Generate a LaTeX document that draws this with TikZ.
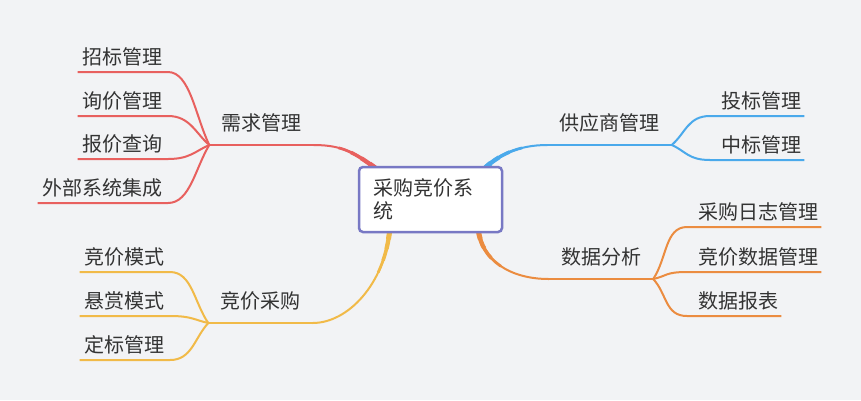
\documentclass[tikz,border=0pt]{standalone}
\usepackage{fontspec}
\newfontfamily\cjk{Noto Sans CJK SC}
\usetikzlibrary{backgrounds}
\definecolor{bgc}{HTML}{F2F3F5}
\definecolor{txt}{HTML}{333333}
\definecolor{cred}{HTML}{E8605E}
\definecolor{cblue}{HTML}{4AA9EB}
\definecolor{corange}{HTML}{EB8C40}
\definecolor{cyellow}{HTML}{F1BA48}
\definecolor{cpurple}{HTML}{7878C4}
\tikzset{
  every node/.style={font=\cjk\fontsize{20}{23}\selectfont, text=txt},
  leaf/.style={inner xsep=5pt, inner ysep=0pt, text depth=7.5pt},
  rleaf/.style={leaf, inner xsep=3pt, xshift=8pt},
  branch/.style={inner xsep=12pt, inner ysep=0pt, text depth=14.5pt},
  twig/.style={line width=2pt, line join=round},
}
\begin{document}
\begin{tikzpicture}[x=1pt,y=-1pt]
	\useasboundingbox (0,0) rectangle (861,400);
	% centre
	\node[draw=cpurple, line width=2.5pt, fill=white, rounded corners=4pt, minimum width=143pt, minimum height=65pt, text width=115pt, inner xsep=13pt, align=left] (root) at (430.5,199.5) {采购竞价系\\统};
	% main topics
	\node[branch, anchor=south] (xq) at (261.5,145) {需求管理};
	\node[branch, anchor=south] (gy) at (609.5,145) {供应商管理};
	\node[branch, anchor=south] (sj) at (601,279) {数据分析};
	\node[branch, anchor=south] (jc) at (260.5,323) {竞价采购};
	% subtopics
	\node[leaf, anchor=south east] (zb) at (168,72) {招标管理};
	\node[leaf, anchor=south east] (xj) at (168,116) {询价管理};
	\node[leaf, anchor=south east] (bj) at (168,159) {报价查询};
	\node[leaf, anchor=south east] (wb) at (168,203) {外部系统集成};
	\node[leaf, anchor=south east] (jm) at (170,272) {竞价模式};
	\node[leaf, anchor=south east] (xs) at (170,316) {悬赏模式};
	\node[leaf, anchor=south east] (db) at (170,360) {定标管理};
	\node[rleaf, anchor=south west] (tb) at (710,116) {投标管理};
	\node[rleaf, anchor=south west] (zh) at (710,160) {中标管理};
	\node[rleaf, anchor=south west] (rz) at (687,227) {采购日志管理};
	\node[rleaf, anchor=south west] (js) at (687,272) {竞价数据管理};
	\node[rleaf, anchor=south west] (bb) at (687,316) {数据报表};
	% lines
	\foreach \n/\d in {zb/-29, xj/-12, bj/6, wb/23}
		\draw[twig, cred] (\n.south west) -- (\n.south east) .. controls +(22,0) and +(-14,\d) .. (xq.south west);
	\foreach \n/\d in {jm/-20, xs/-3, db/15}
		\draw[twig, cyellow] (\n.south west) -- (\n.south east) .. controls +(22,0) and +(-14,\d) .. (jc.south west);
	\foreach \n/\d in {tb/-12, zh/6}
		\draw[twig, cblue] (\n.south east) -- ([xshift=-8pt]\n.south west) .. controls +(-22,0) and +(14,\d) .. (gy.south east);
	\foreach \n/\d in {rz/-21, js/-3, bb/15}
		\draw[twig, corange] (\n.south east) -- ([xshift=-8pt]\n.south west) .. controls +(-22,0) and +(14,\d) .. (sj.south east);
	\draw[twig, cred] (xq.south west) -- (xq.south east);
	\draw[twig, cyellow] (jc.south west) -- (jc.south east);
	\draw[twig, cblue] (gy.south west) -- (gy.south east);
	\draw[twig, corange] (sj.south west) -- (sj.south east);
	\begin{scope}[on background layer]
		\fill[bgc] (0,0) rectangle (861,400);
		% tapering trunks
		\foreach \lwid/\llen in {2pt/400pt, 2.75pt/45pt, 3.5pt/32pt, 4.25pt/20pt, 5pt/10pt} {
			\draw[cred, line width=\lwid, dash pattern=on \llen off 600pt] ([xshift=20pt,yshift=-4pt]root.north west) .. controls +(-22,-16) and +(30,0) .. (xq.south east);
			\draw[cblue, line width=\lwid, dash pattern=on \llen off 600pt] ([xshift=-20pt,yshift=-4pt]root.north east) .. controls +(14,-14) and +(-30,0) .. (gy.south west);
			\draw[corange, line width=\lwid, dash pattern=on \llen off 600pt] ([xshift=-25pt,yshift=4pt]root.south east) .. controls +(3,30) and +(-40,0) .. (sj.south west);
			\draw[cyellow, line width=\lwid, dash pattern=on \llen off 600pt] ([xshift=32pt,yshift=4pt]root.south west) .. controls +(-5,55) and +(35,0) .. (jc.south east);
		}
	\end{scope}
\end{tikzpicture}
\end{document}
